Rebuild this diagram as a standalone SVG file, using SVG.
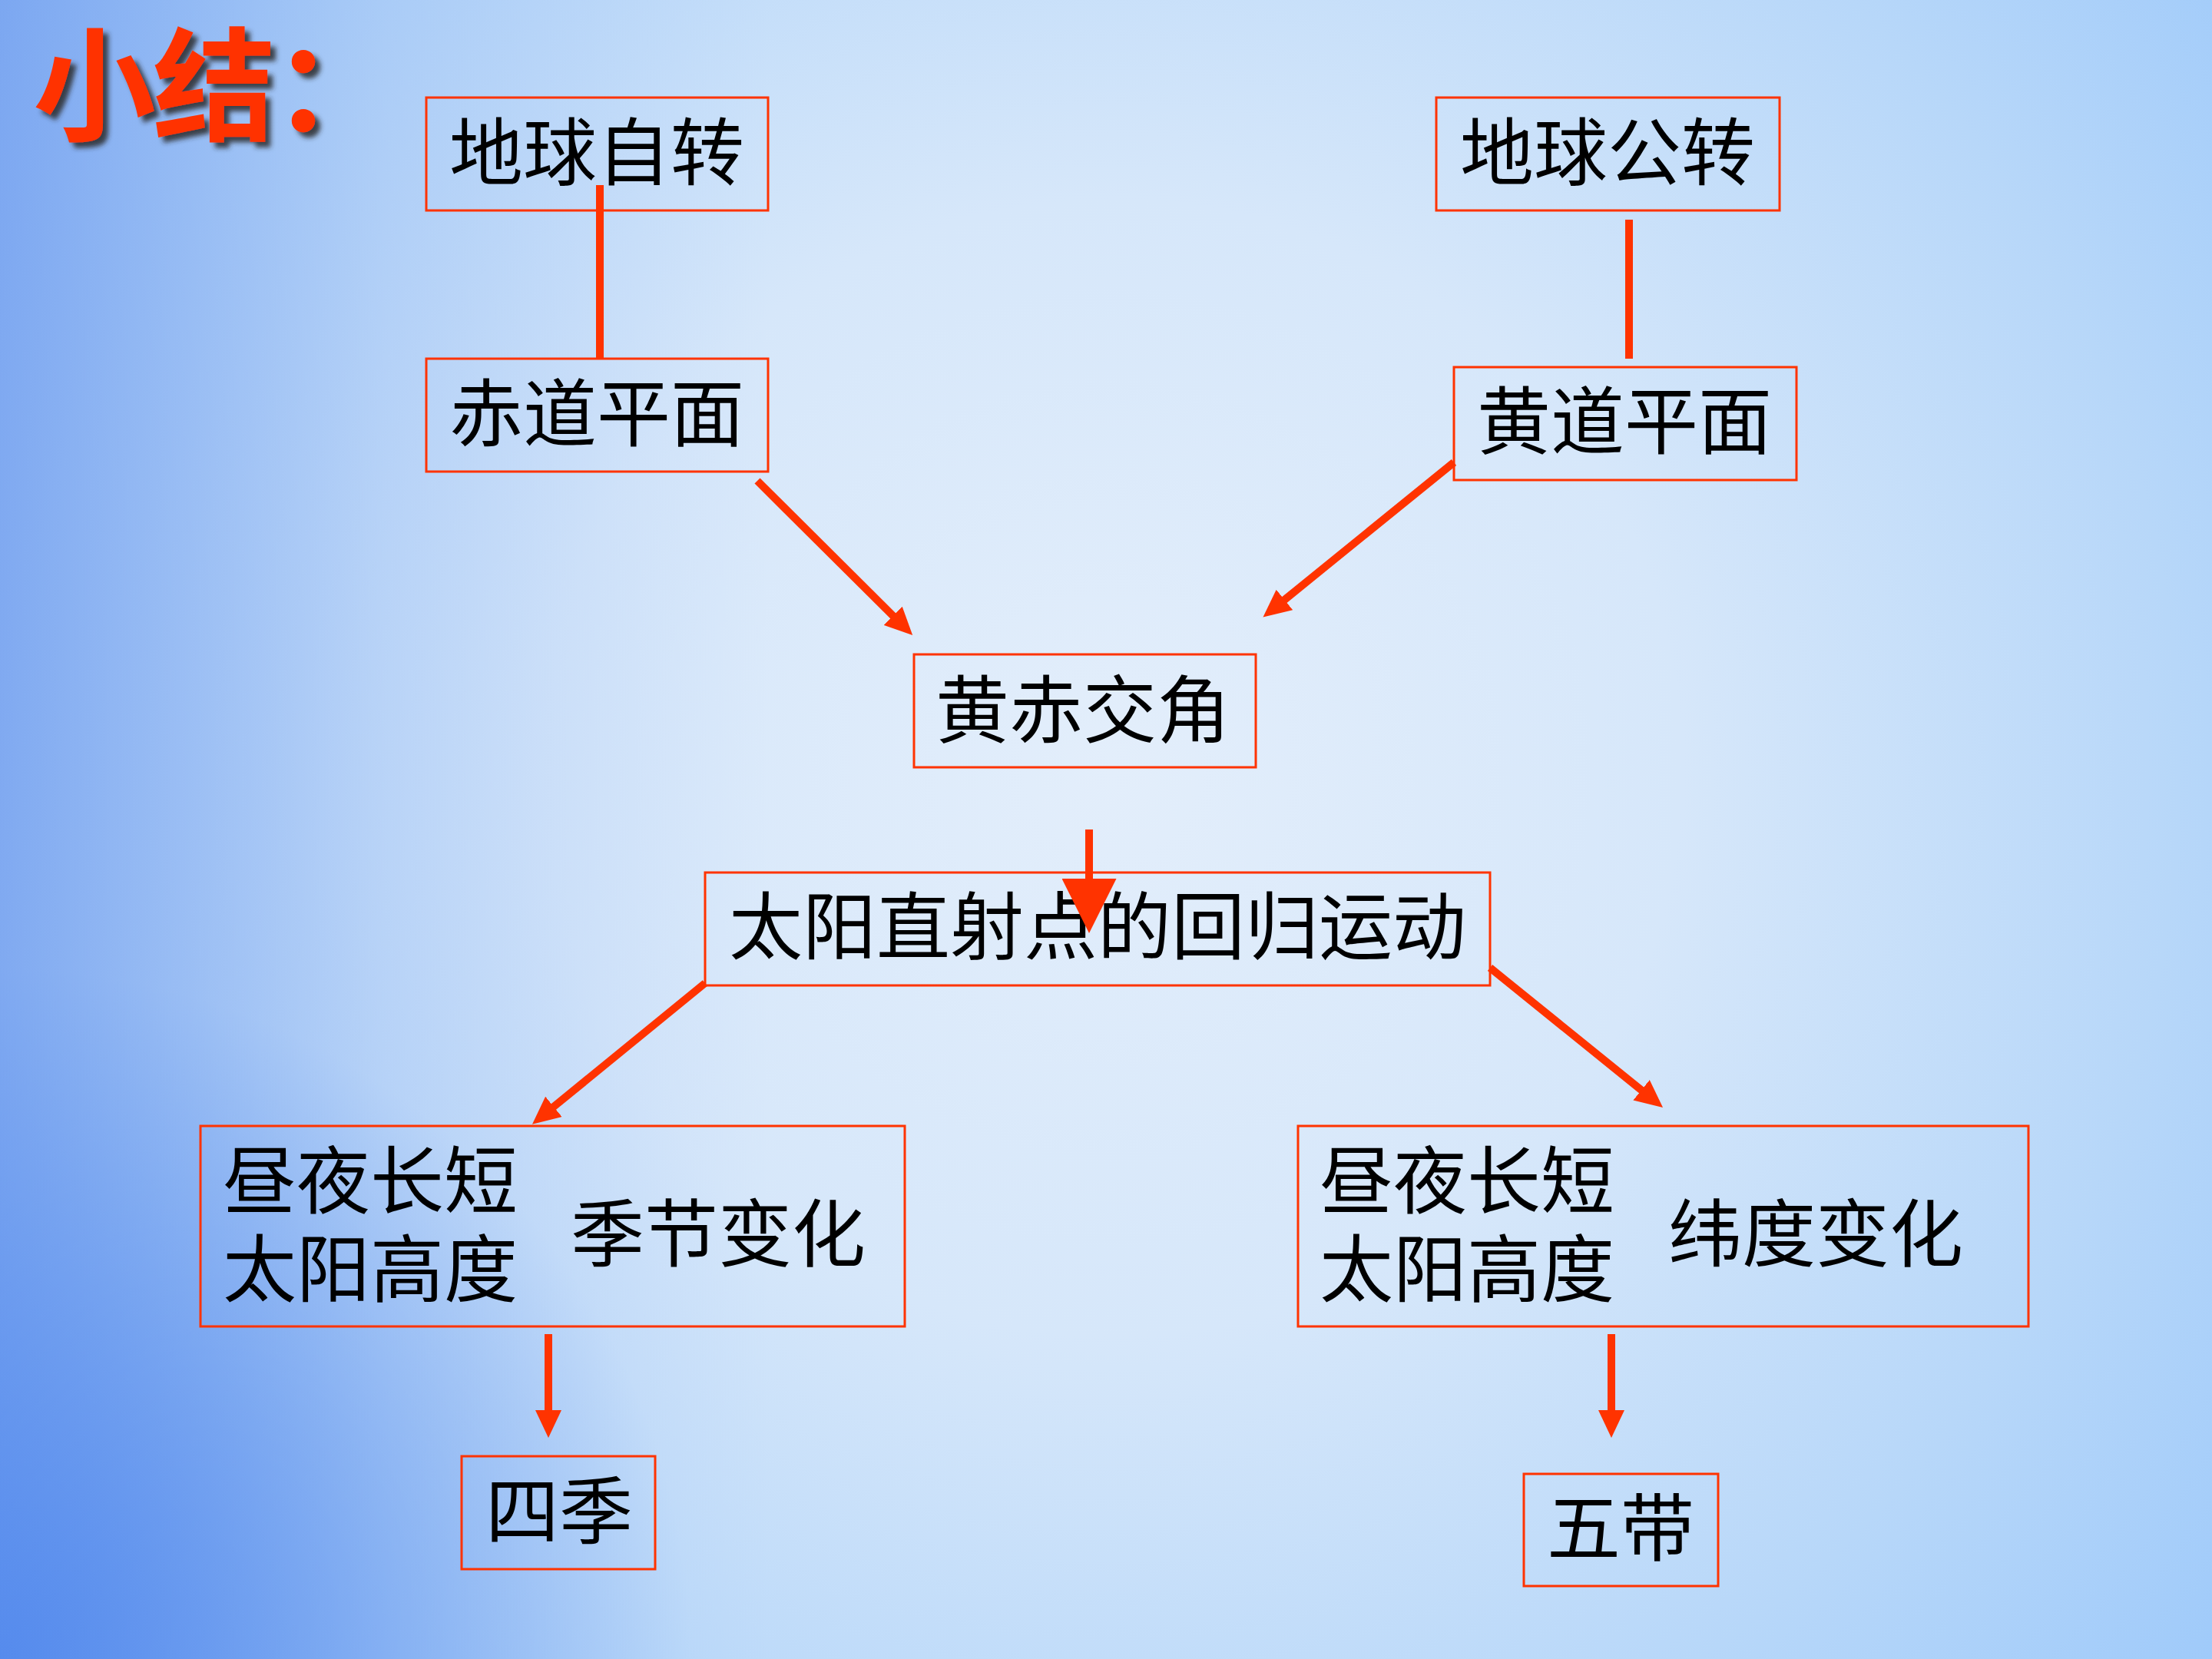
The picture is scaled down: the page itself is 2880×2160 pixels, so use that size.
<svg xmlns="http://www.w3.org/2000/svg" width="2880" height="2160" viewBox="0 0 2880 2160">
<defs>
<radialGradient id="bg" gradientUnits="userSpaceOnUse" cx="1450" cy="1000" r="1850">
<stop offset="0" stop-color="#E3EEFB"/>
<stop offset="0.4" stop-color="#D6E7FA"/>
<stop offset="0.75" stop-color="#B7D7F9"/>
<stop offset="1" stop-color="#9FCAFA"/>
</radialGradient>
<linearGradient id="leftShade" gradientUnits="userSpaceOnUse" x1="0" y1="0" x2="1000" y2="0">
<stop offset="0" stop-color="#6F9BEE" stop-opacity="0.75"/>
<stop offset="0.5" stop-color="#7FA8F0" stop-opacity="0.25"/>
<stop offset="1" stop-color="#8FB4F2" stop-opacity="0"/>
</linearGradient>
<radialGradient id="blCorner" gradientUnits="userSpaceOnUse" cx="0" cy="2160" r="900">
<stop offset="0" stop-color="#4F86EC" stop-opacity="0.85"/>
<stop offset="1" stop-color="#4F86EC" stop-opacity="0"/>
</radialGradient>
<filter id="shadow" x="-10%" y="-10%" width="130%" height="140%">
<feGaussianBlur in="SourceAlpha" stdDeviation="3"/>
<feOffset dx="7" dy="7" result="b"/>
<feFlood flood-color="#2a2a2a" flood-opacity="0.85"/>
<feComposite in2="b" operator="in" result="s"/>
<feMerge><feMergeNode in="s"/><feMergeNode in="SourceGraphic"/></feMerge>
</filter>
<marker id="head" markerUnits="userSpaceOnUse" markerWidth="36" markerHeight="34" refX="16" refY="17" orient="auto" viewBox="0 0 36 34">
<path d="M0,0 L36,17 L0,34 z" fill="#FF3300"/>
</marker>
<marker id="bighead" markerUnits="userSpaceOnUse" markerWidth="71" markerHeight="71" refX="10" refY="35.5" orient="auto" viewBox="0 0 71 71">
<path d="M0,0 L71,35.5 L0,71 z" fill="#FF3300"/>
</marker>
<style>
.box{fill:none;stroke:#FF3300;stroke-width:3}
.t{font-family:"Noto Sans CJK SC","Noto Sans CJK TC",sans-serif;font-size:96px;fill:#000;text-anchor:middle}
.c{stroke:#FF3300;stroke-width:10;fill:none}
.title{font-family:"Noto Sans CJK SC",sans-serif;font-weight:700;font-size:160px;fill:#FF3300}
</style>
</defs>
<rect width="2880" height="2160" fill="url(#bg)"/>
<rect width="2880" height="2160" fill="url(#leftShade)"/>
<rect width="2880" height="2160" fill="url(#blCorner)"/>

<g id="title" filter="url(#shadow)">
<text class="title" x="43" y="171" letter-spacing="-4">小结：</text>
</g>

<g id="node-zizhuan">
<rect class="box" x="555" y="127" width="445" height="147"/>
<text class="t" x="777" y="233">地球自转</text>
</g>
<g id="node-gongzhuan">
<rect class="box" x="1870" y="127" width="447" height="147"/>
<text class="t" x="2093" y="233">地球公转</text>
</g>
<g id="node-chidao">
<rect class="box" x="555" y="467" width="445" height="147"/>
<text class="t" x="777" y="573">赤道平面</text>
</g>
<g id="node-huangdao">
<rect class="box" x="1893" y="478" width="446" height="147"/>
<text class="t" x="2115" y="583">黄道平面</text>
</g>
<g id="node-jiaojiao">
<rect class="box" x="1190" y="852" width="445" height="147"/>
<text class="t" x="1410" y="959">黄赤交角</text>
</g>
<g id="node-huigui">
<rect class="box" x="918" y="1136" width="1022" height="147"/>
<text class="t" x="1429" y="1241">太阳直射点的回归运动</text>
</g>
<g id="node-jijie">
<rect class="box" x="261" y="1466" width="917" height="261"/>
<text class="t"><tspan x="482" y="1572">昼夜长短</tspan><tspan x="482" y="1687">太阳高度</tspan></text>
<text class="t" x="935" y="1641">季节变化</text>
</g>
<g id="node-weidu">
<rect class="box" x="1690" y="1466" width="951" height="261"/>
<text class="t"><tspan x="1910" y="1572">昼夜长短</tspan><tspan x="1910" y="1687">太阳高度</tspan></text>
<text class="t" x="2364" y="1641">纬度变化</text>
</g>
<g id="node-siji">
<rect class="box" x="601" y="1896" width="252" height="147"/>
<text class="t" x="728" y="2002">四季</text>
</g>
<g id="node-wudai">
<rect class="box" x="1984" y="1919" width="253" height="146"/>
<text class="t" x="2110" y="2024">五带</text>
</g>

<g id="connectors">
<line class="c" x1="781" y1="241" x2="781" y2="466" stroke-width="11"/>
<line class="c" x1="2121" y1="286" x2="2121" y2="467" stroke-width="11"/>
<line class="c" x1="986" y1="626" x2="1174" y2="813" marker-end="url(#head)"/>
<line class="c" x1="1893" y1="602" x2="1660" y2="791" marker-end="url(#head)"/>
<line class="c" x1="1418" y1="1080" x2="1418" y2="1154" stroke-width="23" marker-end="url(#bighead)"/>
<line class="c" x1="918" y1="1280" x2="708.5" y2="1451" marker-end="url(#head)"/>
<line class="c" x1="1940" y1="1260" x2="2149.5" y2="1429.4" marker-end="url(#head)"/>
<line class="c" x1="714" y1="1737" x2="714" y2="1852" marker-end="url(#head)"/>
<line class="c" x1="2098" y1="1737" x2="2098" y2="1852" marker-end="url(#head)"/>
</g>
</svg>
